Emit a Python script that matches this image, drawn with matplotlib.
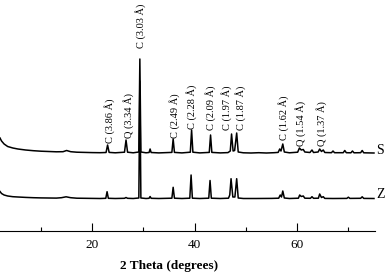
import matplotlib
matplotlib.use("Agg")
import matplotlib.pyplot as plt
from matplotlib.ticker import FixedLocator

plt.rcParams['font.family'] = ['Liberation Serif', 'DejaVu Serif']

# Sample S (upper pattern) : 2-theta (deg) and intensity (a.u., offset)
s_theta = [2.0, 2.3, 2.8, 3.5, 4.5, 5.5, 7.0, 8.5, 10.0, 11.5, 13.0, 14.3, 15.0, 15.8,
           17.0, 18.5, 20.0, 21.5, 22.7, 23.0, 23.3, 24.5, 26.3, 26.6, 26.9, 28.0,
           29.1, 29.3, 29.5, 30.5, 31.1, 31.3, 31.5, 33.0, 35.55, 35.8, 36.05, 37.5,
           39.15, 39.4, 39.65, 41.0, 42.85, 43.1, 43.35, 45.0, 46.5, 46.95, 47.2, 47.5,
           47.8, 48.2, 48.5, 49.5, 51.0, 52.5, 54.0, 55.5, 56.3, 56.6, 56.85, 57.2, 57.5,
           58.5, 60.1, 60.45, 60.8, 61.2, 61.5, 62.5, 62.9, 63.2, 64.1, 64.4, 64.75, 65.1,
           65.4, 66.7, 67.0, 67.3, 69.0, 69.3, 69.6, 70.5, 70.8, 71.1, 72.4, 72.7, 73.0, 75.0]
s_int = [93, 90, 87, 84.5, 83, 82, 81, 80.3, 79.8, 79.5, 79.2, 79.3, 80.5, 79.3,
         78.8, 78.6, 78.4, 78.3, 78.5, 86, 78.6, 78.2, 78.8, 91, 78.8, 78.2,
         79, 172, 79, 78.2, 78.5, 82, 78.5, 78.1, 78.6, 92, 78.6, 78.1,
         78.8, 101, 78.8, 78.1, 78.6, 96, 78.6, 78.1, 78.4, 80, 97, 80,
         80.5, 98, 79, 78.2, 78, 78.3, 78, 78.3, 78.6, 82, 80, 87, 79,
         78.2, 78.8, 83, 81, 81.5, 79, 78.5, 81, 78.5, 79, 82, 79.5, 81,
         78.5, 78.3, 80, 78.3, 78.3, 80.5, 78.3, 78.2, 80, 78.2, 78.3, 80.5, 78.2, 78]

# Sample Z (lower pattern)
z_theta = [2.0, 2.3, 2.8, 3.5, 4.5, 5.5, 7.0, 8.5, 10.0, 11.5, 13.0, 14.0, 14.9, 15.8,
           17.0, 18.5, 20.0, 21.5, 22.65, 22.9, 23.15, 24.5, 26.3, 26.6, 26.9, 28.0,
           29.1, 29.3, 29.5, 30.5, 31.1, 31.3, 31.5, 33.0, 35.55, 35.8, 36.05, 37.5,
           39.05, 39.3, 39.55, 41.0, 42.75, 43.0, 43.25, 45.0, 46.6, 46.85, 47.1, 47.45,
           47.85, 48.2, 48.5, 49.5, 52.0, 55.0, 56.4, 56.7, 56.95, 57.2, 57.5, 58.5,
           60.25, 60.5, 60.8, 61.2, 61.5, 62.6, 62.9, 63.2, 64.15, 64.4, 64.75, 65.1,
           65.4, 67.0, 69.7, 70.0, 70.3, 72.4, 72.7, 73.0, 75.0]
z_int = [39.5, 37.5, 36, 35, 34.3, 34, 33.6, 33.3, 33.1, 33, 32.9, 33.3, 34.2, 33.3,
         32.8, 32.7, 32.6, 32.5, 32.7, 39.3, 32.7, 32.5, 32.7, 33.5, 32.7, 32.5,
         33, 150, 33, 32.5, 32.7, 34.5, 32.7, 32.5, 32.8, 43.7, 32.8, 32.5,
         32.8, 56, 32.8, 32.5, 32.8, 50.5, 32.8, 32.5, 32.8, 36, 52.3, 34,
         34, 52.3, 33, 32.5, 32.5, 32.6, 32.8, 36, 34, 40, 33, 32.5,
         32.8, 36, 34.5, 35, 32.8, 32.7, 34.3, 32.7, 32.8, 37, 33.5, 34.3,
         32.6, 32.5, 32.6, 33.8, 32.6, 32.7, 34.2, 32.6, 32.5]

# Peak annotations
peak_labels = ["C (3.86 Å)", "Q (3.34 Å)", "C (3.03 Å)", "C (2.49 Å)", "C (2.28 Å)",
               "C (2.09 Å)", "C (1.97 Å)", "C (1.87 Å)", "C (1.62 Å)", "Q (1.54 Å)",
               "Q (1.37 Å)"]
label_theta = [23.3, 27.0, 29.5, 36.1, 39.4, 43.0, 46.3, 49.0, 57.3, 60.7, 64.8]
label_y = [88, 93, 183, 93, 102, 101, 101, 101, 91, 85, 85]

series_names = ["S", "Z"]
series_name_y = [81, 37]

W, H = 388, 272
fig = plt.figure(figsize=(W / 100, H / 100), dpi=100)
ax = fig.add_axes([0, 41 / H, 375 / W, 231 / H])

ax.plot(s_theta, s_int, color='black', lw=1.1)
ax.plot(z_theta, z_int, color='black', lw=1.1)

for t, x, y in zip(peak_labels, label_theta, label_y):
    ax.text(x, y, t, rotation=90, ha='center', va='bottom', fontsize=7.5)

for name, y in zip(series_names, series_name_y):
    ax.text(75.4, y, name, ha='left', va='center', fontsize=10, clip_on=False)

ax.set_xlim(2.0, 75.2)
ax.set_ylim(0, 231)
for sp in ['left', 'right', 'top']:
    ax.spines[sp].set_visible(False)
ax.spines['bottom'].set_linewidth(0.8)
ax.set_yticks([])
ax.xaxis.set_major_locator(FixedLocator([20, 40, 60]))
ax.xaxis.set_minor_locator(FixedLocator([10, 30, 50, 70]))
ax.tick_params(axis='x', which='major', direction='in', length=5.8, width=0.8,
               labelsize=9.5, pad=5.5)
ax.tick_params(axis='x', which='minor', direction='in', length=3.1, width=0.8)

fig.text(169.5 / W, 1 - 265.7 / H, "2 Theta (degrees)", ha='center', va='center',
         fontsize=9.5, fontweight='bold')

fig.savefig("out.png", dpi=100)
